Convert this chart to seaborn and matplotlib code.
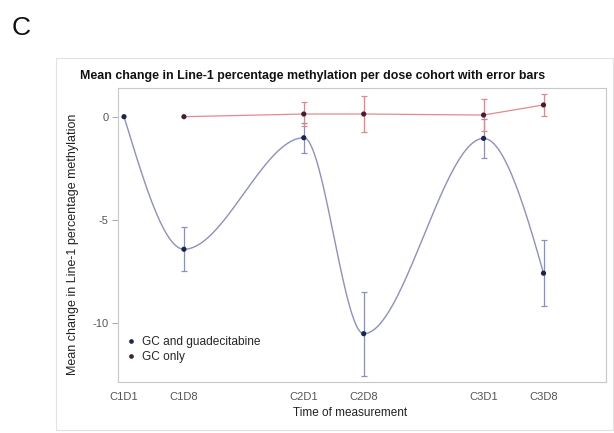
import numpy as np
import pandas as pd
import matplotlib.pyplot as plt
import seaborn as sns
from matplotlib.patches import Rectangle

# values
timepoints = ["C1D1", "C1D8", "C2D1", "C2D8", "C3D1", "C3D8"]
study_day = [1, 8, 22, 29, 43, 50]

gc_guad_mean = [0.0, -6.42, -1.02, -10.51, -1.05, -7.58]
gc_guad_err = [0.0, 1.07, 0.73, 2.04, 0.93, 1.61]

gc_only_day = [8, 22, 29, 43, 50]
gc_only_mean = [0.0, 0.13, 0.13, 0.08, 0.57]
gc_only_err = [0.0, 0.60, 0.85, 0.76, 0.53]

cohorts = ["GC and guadecitabine", "GC only"]

sns.set_style("white")
plt.rcParams['font.family'] = ['Liberation Sans', 'DejaVu Sans']

blue_line = "#8c90c4"
blue_dot = "#1c2452"
red_line = "#e58a8a"
red_dot = "#4a1c34"


def pchip(x, y, xs):
    # monotone cubic curve through the points (like the SAS smooth series)
    x = np.asarray(x, float)
    y = np.asarray(y, float)
    h = np.diff(x)
    d = np.diff(y) / h
    m = np.zeros_like(y)
    for k in range(1, len(x) - 1):
        if d[k - 1] * d[k] > 0:
            w1 = 2 * h[k] + h[k - 1]
            w2 = h[k] + 2 * h[k - 1]
            m[k] = (w1 + w2) / (w1 / d[k - 1] + w2 / d[k])
    m[0] = ((2 * h[0] + h[1]) * d[0] - h[0] * d[1]) / (h[0] + h[1])
    m[-1] = ((2 * h[-1] + h[-2]) * d[-1] - h[-1] * d[-2]) / (h[-1] + h[-2])
    idx = np.clip(np.searchsorted(x, xs) - 1, 0, len(h) - 1)
    t = (xs - x[idx]) / h[idx]
    h00 = 2 * t**3 - 3 * t**2 + 1
    h10 = t**3 - 2 * t**2 + t
    h01 = -2 * t**3 + 3 * t**2
    h11 = t**3 - t**2
    return h00 * y[idx] + h10 * h[idx] * m[idx] + h01 * y[idx + 1] + h11 * h[idx] * m[idx + 1]


df = pd.concat([
    pd.DataFrame({"day": study_day, "mean": gc_guad_mean, "err": gc_guad_err, "cohort": cohorts[0]}),
    pd.DataFrame({"day": gc_only_day, "mean": gc_only_mean, "err": gc_only_err, "cohort": cohorts[1]}),
], ignore_index=True)

fig = plt.figure(figsize=(6.14, 4.33), dpi=100)
ax = fig.add_axes([118 / 614, 1 - 382 / 433, 488 / 614, 294 / 433])

# outer border of the graph
fig.patches.append(Rectangle((56 / 614, 3 / 433), 557 / 614, 372 / 433, transform=fig.transFigure,
                             fill=False, edgecolor="#e2e2e2", linewidth=0.8))

xs = np.linspace(study_day[0], study_day[-1], 400)
ax.plot(xs, pchip(study_day, gc_guad_mean, xs), color=blue_line, lw=1.0, zorder=2)

sns.lineplot(data=df[df.cohort == cohorts[1]], x="day", y="mean", color=red_line, lw=0.9,
             legend=False, ax=ax, zorder=2)

for name, ecol in [(cohorts[0], "#8a8fbd"), (cohorts[1], "#d98a8a")]:
    sub = df[(df.cohort == name) & (df.err > 0)]
    ax.errorbar(sub["day"], sub["mean"], yerr=sub["err"], fmt="none", ecolor=ecol,
                elinewidth=0.9, capsize=2.5, capthick=0.9, zorder=3)

sns.scatterplot(data=df, x="day", y="mean", hue="cohort", palette={cohorts[0]: blue_dot, cohorts[1]: red_dot},
                s=14, edgecolor="none", ax=ax, zorder=4)

ax.set_xlim(0.3, 57.3)
ax.set_ylim(-12.85, 1.39)
ax.set_xticks(study_day)
ax.set_xticklabels(timepoints)
ax.set_yticks([0, -5, -10])
ax.set_yticklabels(["0", "-5", "-10"])
ax.tick_params(axis="x", length=0, pad=7, labelsize=8, labelcolor="#555555")
ax.tick_params(axis="y", length=4, width=0.6, color="#999999", pad=3, labelsize=8, labelcolor="#555555", left=True)
for sp in ax.spines.values():
    sp.set_color("#c8c8c8")
    sp.set_linewidth(0.8)

ax.set_xlabel("Time of measurement", fontsize=8.5, color="#222222")
ax.xaxis.set_label_coords(0.475, -0.085)
ax.set_ylabel("Mean change in Line-1 percentage methylation", fontsize=9, color="#222222")
ax.yaxis.set_label_coords(-0.08, 0.468)

leg = ax.legend(loc="lower left", bbox_to_anchor=(-0.01, 0.035), frameon=False, fontsize=8.6,
                handletextpad=0.15, handlelength=1.6, labelspacing=0.3, borderaxespad=0.3, markerscale=0.9)

fig.text(80 / 614, 1 - 76 / 433, "Mean change in Line-1 percentage methylation per dose cohort with error bars",
         fontsize=8.9, fontweight="bold", ha="left", va="center", color="#111111")
fig.text(12 / 614, 1 - 28 / 433, "C", fontsize=19, ha="left", va="center", color="#111111")

fig.savefig("out.png", dpi=100)
